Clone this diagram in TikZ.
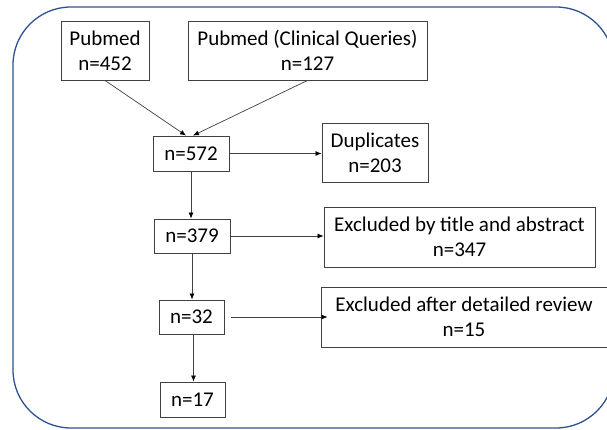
\documentclass[tikz,border=0pt]{standalone}
\usepackage{fontspec}
\setmainfont{Carlito}
\usetikzlibrary{arrows.meta,calc}
\definecolor{frameblue}{HTML}{2F5290}
\definecolor{boxgray}{HTML}{404040}
\begin{document}
\begin{tikzpicture}[x=1pt,y=-1pt,
  box/.style={draw=boxgray,line width=0.9pt,align=center,inner sep=0pt,
    font=\fontsize{21}{25}\selectfont,text=black},
  conn/.style={draw=boxgray,line width=0.7pt,-{Latex[length=6pt,width=5pt,black]}}]
\useasboundingbox (0,0) rectangle (607,430);
\draw[frameblue,line width=1.3pt,rounded corners=58] (13,7) rectangle (614,428);
\node[box,minimum width=88pt,minimum height=59pt] (pm) at (105,50.5) {Pubmed\\n=452};
\node[box,minimum width=239pt,minimum height=59pt] (cq) at (307.5,50.5) {Pubmed (Clinical Queries)\\n=127};
\node[box,minimum width=76pt,minimum height=35pt] (n572) at (191,153.5) {n=572};
\node[box,minimum width=106pt,minimum height=59pt] (dup) at (375,152.5) {Duplicates\\n=203};
\node[box,minimum width=76pt,minimum height=34pt] (n379) at (192,236) {n=379};
\node[box,minimum width=271pt,minimum height=60pt] (ext) at (459.5,237) {Excluded by title and abstract\\n=347};
\node[box,minimum width=65pt,minimum height=34pt] (n32) at (191.5,317) {n=32};
\node[box,minimum width=286pt,minimum height=60pt] (exd) at (464,317) {Excluded after detailed review\\n=15};
\node[box,minimum width=65pt,minimum height=35pt] (n17) at (192.5,399.5) {n=17};
\draw[conn] (pm.south) -- ([xshift=-5pt]n572.north);
\draw[conn] (cq.south) -- ([xshift=2pt]n572.north);
\draw[conn] (n572.east) -- (n572.east -| dup.west);
\draw[conn] (n572.south) -- (n572.south |- n379.north);
\draw[conn] (n379.east) -- (n379.east -| ext.west);
\draw[conn] (n379.south) -- (n379.south |- n32.north);
\draw[conn] ([xshift=7pt]n32.east) -- ([xshift=7pt]n32.east -| exd.west);
\draw[conn] ([xshift=2pt]n32.south) -- ([xshift=2pt]n32.south |- n17.north);
\end{tikzpicture}
\end{document}
